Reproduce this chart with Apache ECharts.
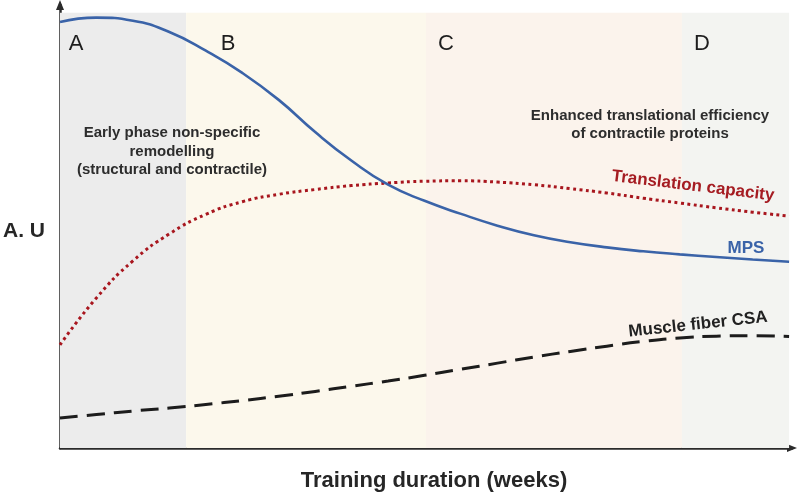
<!DOCTYPE html>
<html>
<head>
<meta charset="utf-8">
<script src="https://cdn.jsdelivr.net/npm/echarts@6/dist/echarts.min.js"></script>
<style>
html,body{margin:0;padding:0;background:#fff;}
#chart{width:800px;height:494px;}
</style>
</head>
<body>
<div id="chart"></div>
<script>
// Training duration positions (relative units, 0-100)
const weeks = [0,5,10,15,20,25,30,35,40,45,50,55,60,65,70,75,80,85,90,95,100];
// Muscle protein synthesis (A.U.)
const mps = [97.9,98.9,98.2,95.6,91.3,86.2,80.0,72.6,66.0,60.5,56.8,53.8,51.1,48.9,47.3,46.1,45.2,44.5,43.9,43.3,42.8];
// Translation capacity (A.U.)
const translationCapacity = [23.7,34.5,43.0,49.2,53.7,56.6,58.3,59.4,60.3,60.9,61.3,61.4,61.1,60.5,59.6,58.6,57.4,56.3,55.2,54.2,53.3];
// Muscle fiber CSA (A.U.)
const fiberCSA = [6.9,7.7,8.5,9.2,10.0,10.9,11.9,13.0,14.2,15.4,16.7,18.1,19.5,20.9,22.2,23.4,24.5,25.3,25.7,25.8,25.6];
// Phase bands
const phaseNames = ['A','B','C','D'];
const phaseBounds = [0,17.3,50.2,85.3,100];

const FONT = '"Liberation Sans", Arial, Helvetica, sans-serif';
const phaseColors = ['#ececec','#fcf8ec','#fbf3ec','#f3f4f1'];

const pairs = ys => weeks.map((w,i)=>[w, ys[i]]);

const chart = echarts.init(document.getElementById('chart'), null, {renderer:'canvas'});

const bands = phaseNames.map((n,i)=>[
  {xAxis: phaseBounds[i], yAxis: 0, itemStyle:{color: phaseColors[i]}},
  {xAxis: phaseBounds[i+1], yAxis: 100}
]);

const txt = (x,y,text,size,weight,color,rot) => ({
  type:'text', x:x, y:y, rotation: rot||0,
  style:{text:text, font: (weight||'bold')+' '+size+'px '+FONT, fill:color||'#2b2b2b', align:'center', verticalAlign:'middle'},
  z: 100
});

const axisLineStyle = {show:true, lineStyle:{color:'#2b2b2b', width:2.5}, symbol:['none','triangle'], symbolSize:[8,10]};

chart.setOption({
  animation:false,
  backgroundColor:'#ffffff',
  grid:{left:60, right:8, top:5, bottom:46},
  xAxis:{
    type:'value', min:0, max:100.4,
    axisLine: axisLineStyle,
    axisTick:{show:false}, axisLabel:{show:false}, splitLine:{show:false}
  },
  yAxis:{
    type:'value', min:0, max:101.8,
    axisLine: axisLineStyle,
    axisTick:{show:false}, axisLabel:{show:false}, splitLine:{show:false}
  },
  series:[
    {
      name:'bands', type:'line', data:[], silent:true,
      markArea:{silent:true, itemStyle:{opacity:1}, data: bands}
    },
    {
      name:'Muscle fiber CSA', type:'line', data: pairs(fiberCSA), smooth:true, showSymbol:false,
      lineStyle:{color:'#1c1c1c', width:3, type:[18,9]}, z:5
    },
    {
      name:'Translation capacity', type:'line', data: pairs(translationCapacity), smooth:true, showSymbol:false,
      lineStyle:{color:'#a8161e', width:3, type:[3,3.4]}, z:6
    },
    {
      name:'MPS', type:'line', data: pairs(mps), smooth:true, showSymbol:false,
      lineStyle:{color:'#3a63a8', width:2.6}, z:7
    }
  ],
  graphic:[
    txt(76,43.5,'A',22,'normal','#1e1e1e'),
    txt(228,43.5,'B',22,'normal','#1e1e1e'),
    txt(446,43.5,'C',22,'normal','#1e1e1e'),
    txt(702,43.5,'D',22,'normal','#1e1e1e'),
    txt(172,133,'Early phase non-specific',15,'bold','#2d2d2d'),
    txt(172,151.5,'remodelling',15,'bold','#2d2d2d'),
    txt(172,170,'(structural and contractile)',15,'bold','#2d2d2d'),
    txt(650,116,'Enhanced translational efficiency',15,'bold','#2d2d2d'),
    txt(650,134,'of contractile proteins',15,'bold','#2d2d2d'),
    txt(693,186,'Translation capacity',17,'bold','#a51c22',-0.12),
    txt(746,248.5,'MPS',17,'bold','#3a63a8'),
    txt(698,324.5,'Muscle fiber CSA',17,'bold','#222222',0.105),
    txt(24,231,'A. U',21,'bold','#262626'),
    txt(434,481,'Training duration (weeks)',22,'bold','#262626')
  ]
});
</script>
</body>
</html>
